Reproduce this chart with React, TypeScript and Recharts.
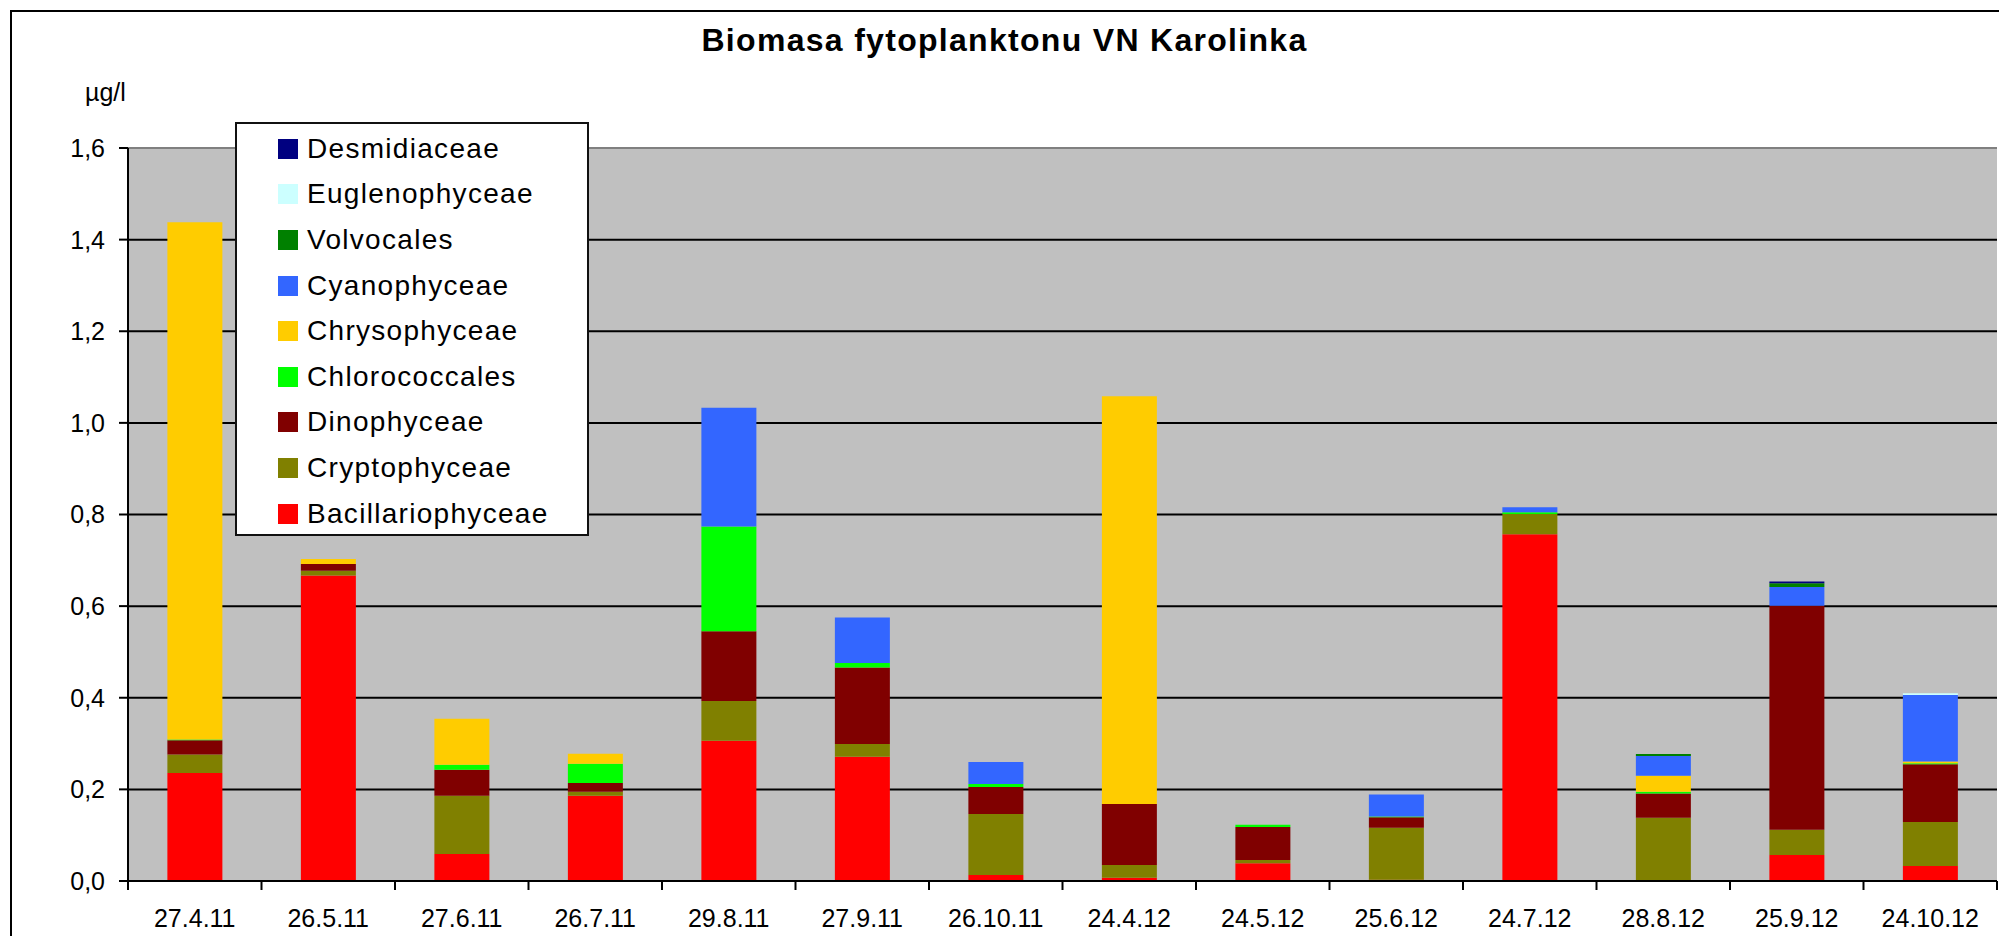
import { BarChart, Bar, XAxis, YAxis, CartesianGrid, Legend, ReferenceLine } from 'recharts'

const categories = ['27.4.11', '26.5.11', '27.6.11', '26.7.11', '29.8.11', '27.9.11', '26.10.11', '24.4.12', '24.5.12', '25.6.12', '24.7.12', '28.8.12', '25.9.12', '24.10.12']

const bacillariophyceae = [0.236, 0.667, 0.059, 0.186, 0.306, 0.271, 0.013, 0.007, 0.039, 0.003, 0.757, 0, 0.057, 0.033]
const cryptophyceae = [0.04, 0.01, 0.127, 0.009, 0.087, 0.028, 0.133, 0.028, 0.007, 0.113, 0.044, 0.138, 0.055, 0.096]
const dinophyceae = [0.031, 0.015, 0.057, 0.019, 0.152, 0.167, 0.059, 0.133, 0.072, 0.023, 0, 0.053, 0.489, 0.126]
const chlorococcales = [0.002, 0, 0.011, 0.042, 0.229, 0.01, 0.007, 0, 0.005, 0.002, 0.004, 0.004, 0, 0.002]
const chrysophyceae = [1.129, 0.011, 0.1, 0.022, 0, 0, 0, 0.89, 0, 0, 0, 0.035, 0, 0.004]
const cyanophyceae = [0, 0, 0, 0, 0.259, 0.099, 0.048, 0, 0, 0.048, 0.011, 0.043, 0.041, 0.145]
const volvocales = [0, 0, 0, 0, 0, 0, 0, 0, 0, 0, 0, 0.004, 0.008, 0]
const euglenophyceae = [0, 0, 0, 0, 0, 0, 0, 0, 0, 0, 0, 0, 0, 0.004]
const desmidiaceae = [0, 0, 0, 0, 0, 0, 0, 0, 0, 0, 0, 0, 0.004, 0]

const yTicks = [0, 0.2, 0.4, 0.6, 0.8, 1.0, 1.2, 1.4, 1.6]
const yMax = 1.6

// bottom of the stack first
const series = [
  { key: 'Bacillariophyceae', values: bacillariophyceae, color: '#FF0000' },
  { key: 'Cryptophyceae', values: cryptophyceae, color: '#808000' },
  { key: 'Dinophyceae', values: dinophyceae, color: '#800000' },
  { key: 'Chlorococcales', values: chlorococcales, color: '#00FF00' },
  { key: 'Chrysophyceae', values: chrysophyceae, color: '#FFCC00' },
  { key: 'Cyanophyceae', values: cyanophyceae, color: '#3366FF' },
  { key: 'Volvocales', values: volvocales, color: '#008000' },
  { key: 'Euglenophyceae', values: euglenophyceae, color: '#CCFFFF' },
  { key: 'Desmidiaceae', values: desmidiaceae, color: '#000080' },
]

const data = categories.map((date, i) => {
  const row: Record<string, string | number> = { date }
  series.forEach((s) => { row[s.key] = s.values[i] })
  return row
})

const FONT = '"Liberation Sans", Arial, sans-serif'
const PLOT_LEFT = 128
const PLOT_RIGHT = 1997
const SLOT = (PLOT_RIGHT - PLOT_LEFT) / categories.length

function DateTick(props: any) {
  const { x, y, payload, index } = props
  const last = index === categories.length - 1
  return (
    <g>
      <line x1={x - SLOT / 2} x2={x - SLOT / 2} y1={y} y2={y + 9} stroke="#000" strokeWidth={2} />
      {last && <line x1={x + SLOT / 2} x2={x + SLOT / 2} y1={y} y2={y + 9} stroke="#000" strokeWidth={2} />}
      <text x={x} y={y + 37} dy="0.35em" textAnchor="middle" fontSize={25} fontFamily={FONT} fill="#000">
        {payload.value}
      </text>
    </g>
  )
}

function BoxLegend() {
  return (
    <div style={{ width: 354, height: 414, background: '#fff', border: '2px solid #111', paddingTop: 2, boxSizing: 'border-box', fontFamily: FONT }}>
      {[...series].reverse().map((s) => (
        <div key={s.key} style={{ height: 45.6, display: 'flex', alignItems: 'center' }}>
          <span style={{ width: 20, height: 20, background: s.color, marginLeft: 41, marginRight: 9, flex: 'none' }} />
          <span style={{ fontSize: 28, letterSpacing: 1.3, color: '#000', lineHeight: 1 }}>{s.key}</span>
        </div>
      ))}
    </div>
  )
}

export default function App() {
  return (
    <div style={{ position: 'relative', width: 1999, height: 936, overflow: 'hidden', background: '#fff', fontFamily: FONT }}>
      <style>{'body{margin:0}'}</style>
      <div style={{ position: 'absolute', left: 10, top: 10, width: 2100, height: 1100, border: '2px solid #000' }} />
      <div style={{ position: 'absolute', left: 0, width: 2009, top: 24, textAlign: 'center', fontSize: 32, fontWeight: 'bold', letterSpacing: 1.3, lineHeight: 1 }}>
        Biomasa fytoplanktonu VN Karolinka
      </div>
      <div style={{ position: 'absolute', left: 85, top: 80, fontSize: 25, lineHeight: 1 }}>µg/l</div>
      {/* right edge of the plot area border */}
      <div style={{ position: 'absolute', left: PLOT_RIGHT - 2, top: 147, width: 2, height: 734, background: '#808080' }} />
      <BarChart
        width={1999}
        height={936}
        data={data}
        margin={{ top: 148, right: 2, bottom: 5, left: 68 }}
        barCategoryGap="29.5%"
        style={{ position: 'absolute', left: 0, top: 0 }}
      >
        <CartesianGrid vertical={false} stroke="#000" strokeWidth={2} fill="#C0C0C0" fillOpacity={1} />
        <XAxis
          dataKey="date"
          interval={0}
          height={50}
          tickSize={0}
          tickMargin={0}
          tickLine={false}
          axisLine={{ stroke: '#000', strokeWidth: 2 }}
          tick={<DateTick />}
        />
        <YAxis
          width={60}
          domain={[0, yMax]}
          ticks={yTicks}
          interval={0}
          tickSize={9}
          tickMargin={14}
          tickLine={{ stroke: '#000', strokeWidth: 2 }}
          axisLine={{ stroke: '#000', strokeWidth: 2 }}
          tick={{ fontSize: 25, fill: '#000', fontFamily: FONT }}
          tickFormatter={(v: number) => v.toFixed(1).replace('.', ',')}
        />
        <ReferenceLine y={yMax} stroke="#808080" strokeWidth={2} />
        <Legend
          layout="vertical"
          align="center"
          verticalAlign="middle"
          content={() => <BoxLegend />}
          wrapperStyle={{ position: 'absolute', left: 235, top: 122, width: 354, height: 414 }}
        />
        {series.map((s) => (
          <Bar key={s.key} dataKey={s.key} stackId="a" fill={s.color} isAnimationActive={false} />
        ))}
      </BarChart>
    </div>
  )
}
